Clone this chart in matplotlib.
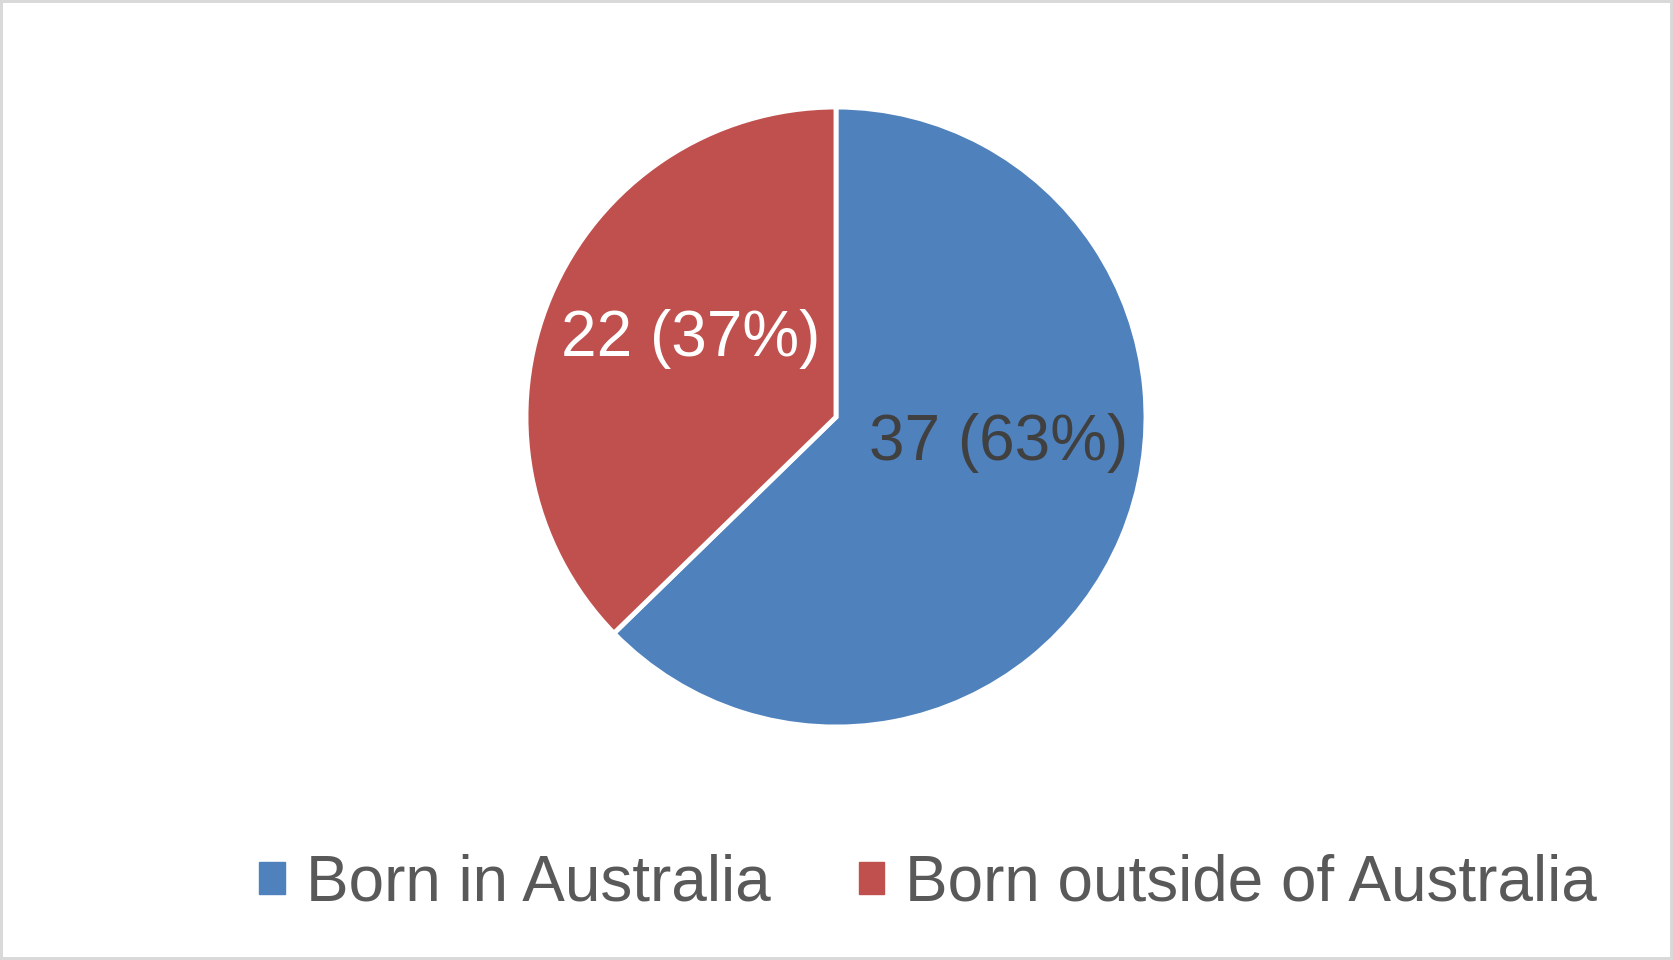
import matplotlib
matplotlib.use("Agg")
import matplotlib.pyplot as plt
import matplotlib.patches as mpatches

plt.rcParams['font.family'] = ['Liberation Sans', 'DejaVu Sans']

# data
categories = ["Born in Australia", "Born outside of Australia"]
counts = [37, 22]
colors = ["#4F81BD", "#C0504D"]
label_colors = ["#404040", "white"]

total = sum(counts)

fig = plt.figure(figsize=(16.73, 9.6), dpi=100)
fig.patch.set_edgecolor("#D9D9D9")
fig.patch.set_linewidth(4.3)

# pie axes, square in pixels
ax = fig.add_axes([0.3144, 0.2427, 0.3706, 0.6458])
wedges, texts, autotexts = ax.pie(
    counts, colors=colors, startangle=90, counterclock=False,
    autopct=lambda p: "%d (%d%%)" % (round(p * total / 100), round(p)),
    pctdistance=0.54,
    wedgeprops=dict(edgecolor="white", linewidth=3.5),
    textprops=dict(fontsize=46))
ax.set_xlim(-1, 1)
ax.set_ylim(-1, 1)
ax.set_aspect("equal")

# Excel style "best fit" label spots
label_spots = [(0.525, -0.083), (-0.47, 0.253)]
for t, c, spot in zip(autotexts, label_colors, label_spots):
    t.set_color(c)
    t.set_position(spot)
    t.set_ha("center")
    t.set_va("center")

handles = [mpatches.Patch(color=c, label=l) for c, l in zip(colors, categories)]
fig.legend(handles=handles, loc="center left", bbox_to_anchor=(0.1548, 0.0795),
           ncol=2, frameon=False, fontsize=46.0, labelcolor="#595959",
           handlelength=0.4, handleheight=0.38, handletextpad=0.33,
           columnspacing=1.38, borderpad=0, borderaxespad=0)

fig.savefig("out.png", dpi=100, facecolor="white", edgecolor=fig.get_edgecolor())
